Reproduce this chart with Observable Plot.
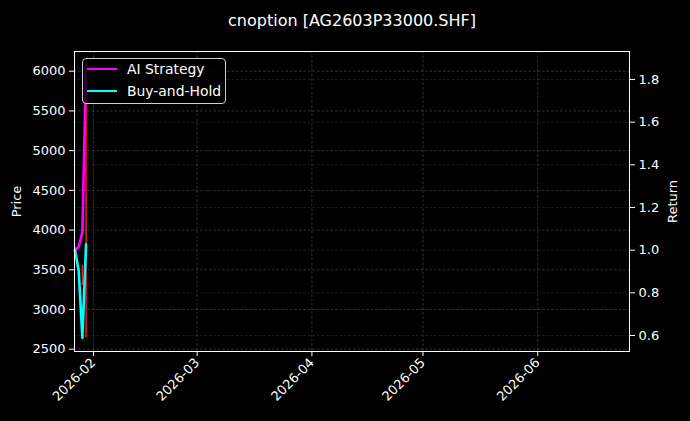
<!DOCTYPE html>
<html>
<head>
<meta charset="utf-8">
<script src="https://cdn.jsdelivr.net/npm/d3@7"></script>
<script src="https://cdn.jsdelivr.net/npm/@observablehq/plot@0.6"></script>
<style>
  html, body { margin: 0; padding: 0; background: #000; }
  #wrap { position: relative; width: 690px; height: 421px; background: #000; font-family: "DejaVu Sans", sans-serif; }
  #legend { position: absolute; left: 82px; top: 58px; width: 144px; height: 46px; box-sizing: border-box;
            border: 1px solid #cfcfcf; border-radius: 4px; background: rgba(0,0,0,0.8); color: #fff;
            font-size: 13.9px; padding: 0 0 0 4px; }
  .row { position: absolute; left: 4px; display: flex; align-items: center; height: 20px; }
  .sw { width: 30px; height: 0; border-top: 2.6px solid; margin-right: 10px; }
</style>
</head>
<body>
<div id="wrap"></div>
<script>
const title = "cnoption [AG2603P33000.SHF]";
const dates = ["2026-01-27", "2026-01-28", "2026-01-29", "2026-01-30"];
const aiStrategy = [1.0, 1.015, 1.084, 1.868];
const buyHold = [1.0, 0.905, 0.59, 1.027];
const priceLow = [3745, 3475, 3300, 2643];
const priceHigh = [3790, 3505, 3560, 6077];
const priceTicks = [2500, 3000, 3500, 4000, 4500, 5000, 5500, 6000];
const returnTicks = [0.6, 0.8, 1.0, 1.2, 1.4, 1.6, 1.8];
const monthTicks = ["2026-02-01", "2026-03-01", "2026-04-01", "2026-05-01", "2026-06-01"];
const seriesNames = ["AI Strategy", "Buy-and-Hold"];
const seriesColors = ["#ff00ff", "#00ffff"];

const priceDomain = [2471, 6248];
const returnDomain = [0.525, 1.931];
const k = (priceDomain[1] - priceDomain[0]) / (returnDomain[1] - returnDomain[0]);
const retToP = r => priceDomain[0] + (r - returnDomain[0]) * k;
const pToRet = p => returnDomain[0] + (p - priceDomain[0]) / k;

const candles = dates.map((d, i) => ({date: new Date(d), lo: priceLow[i], hi: priceHigh[i]}));
const lines = [];
dates.forEach((d, i) => lines.push({date: new Date(d), v: retToP(aiStrategy[i]), s: seriesNames[0]}));
dates.forEach((d, i) => lines.push({date: new Date(d), v: retToP(buyHold[i]), s: seriesNames[1]}));

const chart = Plot.plot({
  width: 690,
  height: 421,
  marginLeft: 74,
  marginRight: 61,
  marginTop: 51,
  marginBottom: 70,
  style: {background: "#000", color: "#fff", fontFamily: "DejaVu Sans, sans-serif", fontSize: "13px"},
  x: {type: "utc", domain: [new Date(Date.UTC(2026, 0, 26, 21)), new Date(Date.UTC(2026, 5, 25, 19))]},
  y: {domain: priceDomain},
  color: {domain: seriesNames, range: seriesColors},
  marks: [
    Plot.gridX(monthTicks.map(d => new Date(d)), {stroke: "#777", strokeOpacity: 0.6, strokeDasharray: "2.5,2", strokeWidth: 0.7}),
    Plot.gridY(priceTicks, {stroke: "#777", strokeOpacity: 0.6, strokeDasharray: "2.5,2", strokeWidth: 0.7}),
    Plot.gridY(returnTicks.map(retToP), {stroke: "#777", strokeOpacity: 0.35, strokeDasharray: "2.5,2", strokeWidth: 0.7}),
    Plot.ruleX(candles, {x: "date", y1: "lo", y2: "hi", stroke: "#ff2020", strokeOpacity: 0.95, strokeWidth: 1.5}),
    Plot.line(lines, {x: "date", y: "v", z: "s", stroke: "s", strokeWidth: 2.6}),
    Plot.frame({stroke: "#fff", strokeWidth: 1}),
    Plot.axisX(monthTicks.map(d => new Date(d)), {tickFormat: d3.utcFormat("%Y-%m"), tickRotate: -45, tickSize: 5, tickPadding: 4, label: null, fontSize: 13}),
    Plot.axisY(priceTicks, {anchor: "left", tickSize: 5, tickPadding: 4, tickFormat: d => String(d), label: "Price", labelAnchor: "center", labelArrow: "none", labelOffset: 63, fontSize: 13}),
    Plot.axisY(returnTicks.map(retToP), {anchor: "right", tickSize: 5, tickPadding: 4, tickFormat: d => pToRet(d).toFixed(1), label: "Return", labelAnchor: "center", labelArrow: "none", labelOffset: 47, fontSize: 13}),
    Plot.text([title], {frameAnchor: "top", dy: -37, text: d => d, fontSize: 16, fill: "#fff"})
  ]
});

const wrap = document.getElementById("wrap");
wrap.appendChild(chart);
const legend = document.createElement("div");
legend.id = "legend";
seriesNames.forEach((n, i) => {
  const row = document.createElement("div");
  row.className = "row";
  row.style.top = (i === 0 ? 0 : 22) + "px";
  const sw = document.createElement("span");
  sw.className = "sw";
  sw.style.borderTopColor = seriesColors[i];
  const t = document.createElement("span");
  t.textContent = n;
  row.appendChild(sw);
  row.appendChild(t);
  legend.appendChild(row);
});
wrap.appendChild(legend);
</script>
</body>
</html>
